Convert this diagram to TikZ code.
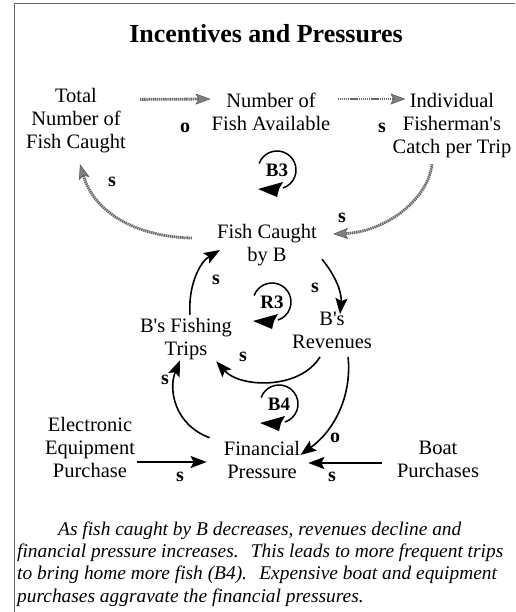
\documentclass[tikz,border=0pt]{standalone}
\usepackage{fontspec}
\setmainfont{Liberation Serif}
\usetikzlibrary{arrows.meta,calc}
\newcommand\loopmark[3]{%
  \node[loopl] (#3) at (#1) {#2};
  \draw[line width=1.5pt] (#3.center) ++(-160:19) arc[start angle=-160,end angle=72,radius=19];
  \fill (#3.center) ++(-19,19) -- ++(25,-7) -- ++(-4,7) -- ++(-2,8) -- cycle;
}
\newcommand\apos{\textquotesingle}
\begin{document}
\begin{tikzpicture}[x=1pt,y=-1pt,
  lab/.style={align=center, inner sep=0pt, font=\fontsize{20.5}{23}\selectfont,
    execute at begin node=\strut, execute at end node=\strut},
  pol/.style={inner sep=0pt, font=\fontsize{20}{20}\selectfont\bfseries},
  loopl/.style={inner sep=0pt, font=\fontsize{19}{19}\selectfont\bfseries},
  sarr/.style={line width=1.6pt, -{Stealth[length=16pt,width=12pt,inset=3pt]}},
  darr/.style={draw=black!60, line width=2.8pt, dash pattern=on 1.4pt off 0.7pt,
    -{Stealth[length=15pt,width=11pt,inset=3pt,fill=black!50,color=black!65,line width=0.6pt]}},
  capt/.style={align=left, inner sep=0pt, font=\fontsize{19.4}{22.3}\selectfont\itshape,
    execute at begin node=\strut},
]
\useasboundingbox (0,0) rectangle (515,612);
\fill[white] (0,0) rectangle (515,612);
\draw[black!60, line width=1pt] (14,612) -- (14,3.5) -- (515,3.5);

\node[font=\fontsize{26}{30}\selectfont\bfseries, anchor=base] (title) at (266,43) {Incentives and Pressures};

% variables
\node[lab] (tot)   at (76,121.4)  {Total\\Number of\\Fish Caught};
\node[lab] (num)   at (271,115.4) {Number of\\Fish Available};
\node[lab] (ind)   at (452,126.4) {Individual\\Fisherman\apos s\\Catch per Trip};
\node[lab] (fcb)   at (267,246)   {Fish Caught\\by B};
\node[lab] (trips) at (186,340)   {B\apos s Fishing\\Trips};
\node[lab] (rev)   at (332,334)   {B\apos s\\Revenues};
\node[lab] (ele)   at (90,450.5)  {Electronic\\Equipment\\Purchase};
\node[lab] (fin)   at (262,463)   {Financial\\Pressure};
\node[lab] (boat)  at (438,463)   {Boat\\Purchases};

% shaded (outer) links
\draw[darr] ($(tot.east)+(14,-22)$) -- ($(num.west)+(-1,-16.4)$);
\draw[darr] ($(num.east)+(7,-16.4)$) -- ($(ind.west)+(13,-27.4)$);
\draw[darr] ($(fcb.west)+(-25,-8)$) .. controls (140,237) and (95,215) .. ($(tot.south)+(4,9)$);
\draw[darr] ($(ind.south)+(-20,4)$) .. controls (428,200) and (385,232) .. ($(fcb.east)+(16,-12)$);

% solid links
\draw[sarr] ($(fcb.south east)+(5,-9)$) .. controls (335,275) and (342,292) .. ($(rev.north)+(8,2)$);
\draw[sarr] ($(trips.north)+(4,-3)$) .. controls (188,285) and (200,262) .. ($(fcb.west)+(3,4)$);
\draw[sarr] ($(rev.south)+(-12,1)$) .. controls (300,390) and (240,388) .. ($(trips.south east)+(-16,-1)$);
\draw[sarr] ($(fin.north west)+(-14,-3)$) .. controls (175,425) and (168,390) .. ($(trips.south)+(-6,-2)$);
\draw[sarr] ($(rev.south east)+(-24,1)$) .. controls (352,395) and (335,430) .. ($(fin.east)+(0,-8)$);
\draw[sarr] ($(ele.east)+(2,11.5)$) -- ($(fin.west)+(-17,-1)$);
\draw[sarr] ($(boat.west)+(-15,0)$) -- ($(fin.east)+(8,0)$);

% polarities
\node[pol] (p1)  at (185,128) {o};
\node[pol] (p2)  at (382,128) {s};
\node[pol] (p3)  at (112,182) {s};
\node[pol] (p4)  at (342,218) {s};
\node[pol] (p5)  at (216,280) {s};
\node[pol] (p6)  at (315,288) {s};
\node[pol] (p7)  at (243,357) {s};
\node[pol] (p8)  at (165,380) {s};
\node[pol] (p9)  at (335,438) {o};
\node[pol] (p10) at (180,477) {s};
\node[pol] (p11) at (332,477) {s};

% loop markers
\loopmark{277,170}{B3}{b3}
\loopmark{272,302}{R3}{r3}
\loopmark{279,404}{B4}{b4}

% caption
\node[capt, anchor=north west] (cap) at (17,521.4) {\hspace*{41pt}As fish caught by B decreases, revenues decline and\\
financial pressure increases.\hspace{0.3em} This leads to more frequent trips\\
to bring home more fish (B4).\hspace{0.3em} Expensive boat and equipment\\
purchases aggravate the financial pressures.};
\end{tikzpicture}
\end{document}
